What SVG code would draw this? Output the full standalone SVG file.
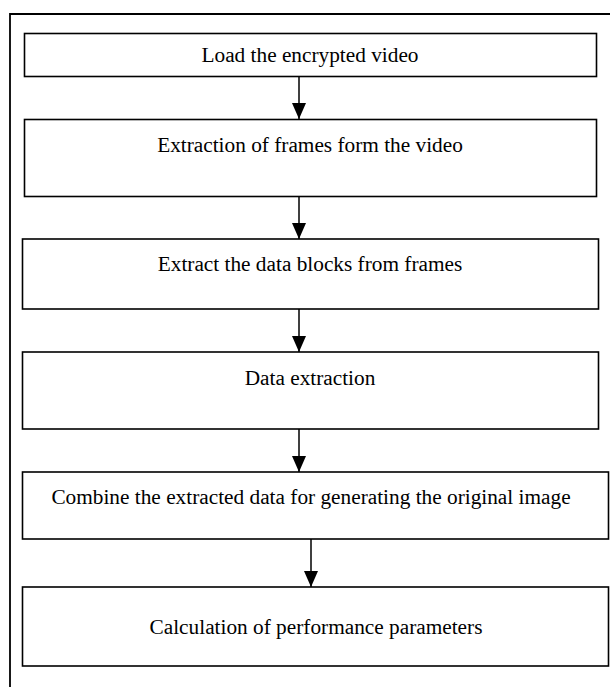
<svg xmlns="http://www.w3.org/2000/svg" width="610" height="687" viewBox="0 0 610 687">
<defs>
<style>
.frame{fill:none;stroke:#000;stroke-width:1.8}
.box{fill:#fff;stroke:#000;stroke-width:1.6}
.lbl{font-family:"Liberation Serif","Times New Roman",serif;font-size:21.3px;fill:#000;text-anchor:middle}
.conn{stroke:#000;stroke-width:1.5;fill:none}
</style>
<marker id="ah" markerWidth="16" markerHeight="14" refX="16" refY="7" orient="auto" markerUnits="userSpaceOnUse" viewBox="0 0 16 14">
<path d="M0,0 L16,7 L0,14 Z" fill="#000"/>
</marker>
</defs>
<rect x="0" y="0" width="610" height="687" fill="#fff"/>
<path class="frame" d="M10,700 V14 H620"/>
<g id="n1"><rect class="box" x="24.5" y="33.5" width="572" height="43"/><text class="lbl" x="310" y="62">Load the encrypted video</text></g>
<g id="n2"><rect class="box" x="24.5" y="119.5" width="572" height="77"/><text class="lbl" x="310" y="152">Extraction of frames form the video</text></g>
<g id="n3"><rect class="box" x="22.5" y="239" width="576" height="70"/><text class="lbl" x="310" y="271">Extract the data blocks from frames</text></g>
<g id="n4"><rect class="box" x="22.5" y="352" width="576" height="77"/><text class="lbl" x="310" y="385">Data extraction</text></g>
<g id="n5"><rect class="box" x="22.5" y="472" width="586" height="67"/><text class="lbl" x="311" y="504">Combine the extracted data for generating the original image</text></g>
<g id="n6"><rect class="box" x="22.5" y="587" width="586" height="79"/><text class="lbl" x="316" y="634">Calculation of performance parameters</text></g>
<g id="connectors">
<line class="conn" x1="299" y1="77" x2="299" y2="119" marker-end="url(#ah)"/>
<line class="conn" x1="299" y1="197" x2="299" y2="239" marker-end="url(#ah)"/>
<line class="conn" x1="299" y1="309" x2="299" y2="352" marker-end="url(#ah)"/>
<line class="conn" x1="299" y1="429" x2="299" y2="472" marker-end="url(#ah)"/>
<line class="conn" x1="311" y1="539" x2="311" y2="587" marker-end="url(#ah)"/>
</g>
</svg>
